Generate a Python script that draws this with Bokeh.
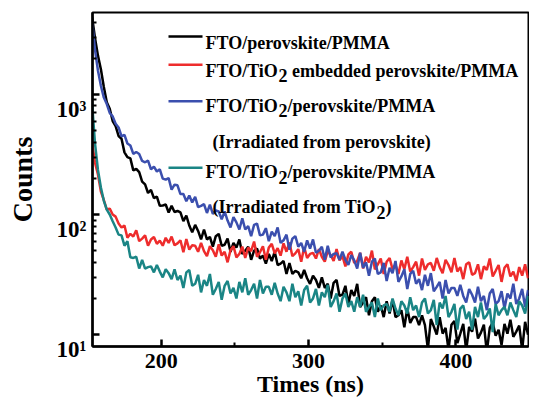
import math
from bokeh.plotting import figure
from bokeh.models import FixedTicker, Range1d, ColumnDataSource
from bokeh.core.properties import value
from bokeh.embed import file_html
from bokeh.resources import INLINE

# time axis (ns), sampled every 2 ns
times = list(range(153, 450, 2))

black = [
    4400, 2950, 2100, 1620, 1150, 860, 760, 600, 545, 450,
    427, 329, 300, 293, 233, 240, 225, 188, 178, 151,
    160, 137, 141, 118, 119, 121, 104, 118, 105, 107,
    104, 88, 98, 81, 71, 82, 73, 62, 75, 62,
    65, 54, 66, 69, 55, 56, 63, 49, 58, 53,
    62, 47, 50, 54, 42, 50, 52, 43, 45.5, 39,
    47, 41, 49, 38, 39, 41, 32, 39.5, 32, 34,
    33, 29.5, 34.5, 29.5, 26.5, 31, 28.5, 24.5, 30, 24.5,
    26.5, 20, 27, 28.5, 21, 21.5, 25.5, 18, 23.5, 21,
    26.5, 17, 18.5, 20.5, 14.5, 19, 20.5, 15.5, 17.5, 14,
    19, 15, 19.5, 14, 14.5, 16, 11.5, 16.5, 12.5, 14,
    14, 12, 14.5, 12, 7.6, 13.5, 11.7, 10, 14, 10.2,
    11.4, 7.5, 12.1, 13, 8.5, 10.2, 12.3, 7.4, 11.6, 10.6,
    13.6, 9.3, 10.4, 12.1, 7.2, 11.4, 12.6, 9.8, 11, 8.2,
    12.3, 10.2, 13.3, 9.6, 10.6, 11.9, 7.5, 12.8, 10,
]

red = [
    400, 270, 215, 155, 132, 110, 112, 100, 96, 84,
    78, 81, 64, 69, 65.5, 74, 60, 63, 67, 55,
    62, 65, 57, 60.5, 55, 64, 58, 65.5, 55.5, 57.5,
    61, 48.5, 62.5, 51, 55.5, 55, 49, 58, 49.5, 45,
    54.5, 50.5, 44.5, 56.5, 45.5, 49, 40, 50.5, 54.5, 44,
    47, 54, 43.5, 53, 49.5, 59.5, 44.5, 48.5, 54.5, 42,
    53, 57, 47.5, 52.5, 45.5, 57.5, 49, 58.5, 45, 47.5,
    51.5, 40.5, 53.5, 43.5, 47, 48, 43, 51.5, 44.5, 40.5,
    49.5, 46, 41, 51.5, 41.5, 45, 37, 46.5, 49, 39.5,
    41, 48, 35.5, 44.5, 40, 50, 35, 38.5, 43, 32,
    40.5, 43.5, 35, 38, 32, 41.5, 35, 44.5, 33.5, 36.5,
    40.5, 31, 43, 34.5, 38.5, 39.5, 34, 43.5, 36.5, 32.5,
    42, 38, 33, 43.5, 33.5, 36.5, 29, 38.5, 40, 31.5,
    32.5, 38.5, 29, 37, 34.5, 43, 30.5, 34, 38, 27.5,
    36, 38.5, 30.5, 33.5, 28, 36.5, 31, 38.5, 29.5,
]

blue = [
    4100, 2350, 1580, 1180, 940, 830, 700, 655, 570, 530,
    448, 460, 390, 375, 320, 331, 319, 279, 272, 281,
    238, 250, 228, 238, 199, 195, 201, 161, 177, 175,
    148, 148, 129, 144, 126, 140, 115, 118, 122, 103,
    121, 101, 108, 106, 91, 106, 89, 78, 95, 86,
    75, 93, 75, 80, 66, 82, 84, 67, 68, 77,
    60, 72, 66, 78, 58, 61, 68, 51, 63, 66,
    54, 58, 49, 61, 52, 62, 48, 50, 54, 42,
    55, 44, 47, 47.5, 42, 49, 42, 38, 46, 41.5,
    35.5, 48, 36, 40, 31, 40.5, 43, 32, 33, 39.5,
    28, 36, 32.5, 41, 27.5, 30.5, 35, 24, 32, 34,
    26.5, 29, 23.5, 31.5, 25.5, 32.5, 23, 25, 27.5, 20,
    28.5, 22, 24.5, 24.5, 21, 26, 21, 18.5, 24, 21.5,
    18.5, 25, 19, 21, 16, 22, 24, 18, 19, 23,
    16.5, 22, 20, 26.5, 18, 20, 24, 17, 23.5,
]

teal = [
    850, 390, 235, 168, 130, 110, 100, 88, 78, 68,
    67, 55, 60, 44, 43.5, 44.5, 35.5, 42, 35.5, 36.5,
    37, 33, 38, 33.5, 30, 35, 32.5, 29, 35, 28.5,
    31, 24.5, 33, 34.5, 25.5, 26.5, 31.5, 22.5, 28.5, 25.5,
    32, 21.5, 24, 27.5, 19.5, 25.5, 28, 22, 24.5, 20,
    27.5, 22.5, 29.5, 21.5, 23.5, 26.5, 20, 28.5, 22, 25,
    25, 21.5, 27, 22, 19, 25, 22.5, 19, 26.5, 20.5,
    23, 17.5, 23.5, 25.5, 18.5, 20, 24, 17.5, 22.5, 20.5,
    26, 17, 19, 22, 15.5, 20, 22, 17, 19, 15.5,
    20.5, 17, 21.5, 15.5, 17, 18.5, 14, 20, 16, 17.5,
    18, 15.5, 20, 16.5, 14.5, 19, 17.5, 15, 20.5, 16,
    17.5, 14, 18.5, 20, 15, 16, 19.5, 12, 18.5, 16.5,
    21, 14, 15.5, 18, 11, 16.5, 17.5, 13.5, 15.5, 11,
    17, 14, 18.5, 13.5, 14.5, 16.5, 10.5, 18, 14.5, 16,
    17, 14.5, 18.5, 16, 14, 19, 17.5, 15, 21,
]

colors = ["#000000", "#ee2c2c", "#3b4fae", "#1a8585"]

x_ticks = [200, 300, 400]
x_minor = [250, 350]
y_ticks = [10, 100, 1000]
y_minor = [20, 30, 40, 50, 60, 70, 80, 90,
           200, 300, 400, 500, 600, 700, 800, 900,
           2000, 3000, 4000]
y_tick_labels = ["10\u00b9", "10\u00b2", "10\u00b3"]

FONT = "Liberation Serif"

# axis ranges and frame placement (canvas pixels)
X0, X1 = 153.3, 449.3
Y0, Y1 = 7.97, 4800.0
W, H = 529, 404
FL, FR, FT, FB = 92, 528, 12, 346


def px_to_x(px):
    return X0 + (px - FL) * (X1 - X0) / (FR - FL)


def py_to_y(py):
    l0, l1 = math.log10(Y0), math.log10(Y1)
    return 10 ** (l1 - (py - FT) * (l1 - l0) / (FB - FT))


p = figure(width=W, height=H, y_axis_type="log",
           x_range=Range1d(X0, X1), y_range=Range1d(Y0, Y1),
           output_backend="svg", toolbar_location=None,
           min_border_left=FL, min_border_right=W - FR,
           min_border_top=FT, min_border_bottom=H - FB)
p.grid.visible = False
p.background_fill_color = "white"
p.border_fill_color = "white"
p.outline_line_color = "black"
p.outline_line_width = 2
p.outline_line_alpha = 1

for ys, c in zip([black, red, blue, teal], colors):
    src = ColumnDataSource(dict(t=times, c=ys))
    p.line("t", "c", source=src, line_color=c, line_width=2.5)

# axes
for ax in (p.xaxis[0], p.yaxis[0]):
    ax.axis_line_width = 2.5
    ax.major_tick_line_width = 2.5
    ax.minor_tick_line_width = 2
    ax.major_tick_in = 7
    ax.major_tick_out = 0
    ax.minor_tick_in = 4
    ax.minor_tick_out = 0
    ax.major_label_text_font = FONT
    ax.major_label_text_font_style = "bold"
    ax.major_label_text_color = "black"
    ax.axis_label_text_font = FONT
    ax.axis_label_text_font_style = "bold"
    ax.axis_label_text_color = "black"

p.xaxis[0].ticker = FixedTicker(ticks=x_ticks, minor_ticks=x_minor)
p.xaxis[0].axis_label = "Times (ns)"
p.xaxis[0].major_label_text_font_size = "22px"
p.xaxis[0].axis_label_text_font_size = "24px"
p.xaxis[0].major_label_standoff = 7
p.xaxis[0].axis_label_standoff = 0

p.yaxis[0].ticker = FixedTicker(ticks=y_ticks, minor_ticks=y_minor)
# leading empty line drops each label a little below its tick, as in the original
p.yaxis[0].major_label_overrides = {t: "\n" + lab for t, lab in zip(y_ticks, y_tick_labels)}
p.yaxis[0].major_label_text_font_size = "23px"
p.yaxis[0].major_label_standoff = 6
p.yaxis[0].axis_label = "Counts"
p.yaxis[0].axis_label_text_font_size = "28px"
p.yaxis[0].axis_label_standoff = 16

# legend (drawn manually to allow subscripts), positions in canvas pixels
leg_line_px = [168, 202]
leg_line_py = [36, 64.3, 100.7, 167.3]
for c, py in zip(colors, leg_line_py):
    yy = py_to_y(py)
    p.line([px_to_x(leg_line_px[0]), px_to_x(leg_line_px[1])], [yy, yy],
           line_color=c, line_width=2.5)

legend_texts = [
    ("FTO/perovskite/PMMA", 205, 42),
    ("FTO/TiO", 205, 70), ("2", 278, 75), ("embedded perovskite/PMMA", 291.5, 70),
    ("FTO/TiO", 205, 105), ("2", 278, 110), ("/perovskite/PMMA", 287, 105),
    ("(Irradiated from perovskite)", 212, 141.7),
    ("FTO/TiO", 205, 171.7), ("2", 278, 176.7), ("/perovskite/PMMA", 287, 171.7),
    ("(Irradiated from TiO", 212, 206.7), ("2", 376, 211.7), (")", 385, 206.7),
]
tsrc = ColumnDataSource(dict(
    x=[px_to_x(t[1]) for t in legend_texts],
    y=[py_to_y(t[2]) for t in legend_texts],
    text=[t[0] for t in legend_texts],
))
p.text("x", "y", text="text", source=tsrc, text_font=value(FONT),
       text_font_style="bold", text_font_size="18px", text_color="black",
       text_align="left", text_baseline="alphabetic")

open("out.html", "w").write(file_html(p, INLINE))
